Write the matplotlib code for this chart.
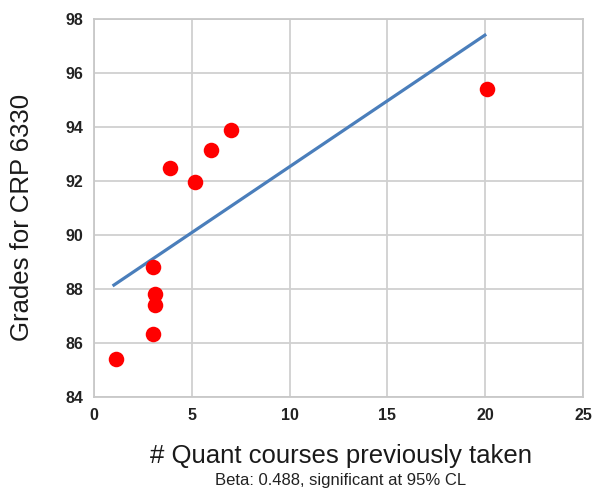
import matplotlib
matplotlib.use("Agg")
import matplotlib.pyplot as plt
import numpy as np

courses = [1.1, 3.0, 3.1, 3.1, 3.0, 3.9, 5.15, 6.0, 7.0, 20.1]
grades = [85.4, 88.8, 87.8, 87.4, 86.35, 92.5, 91.95, 93.15, 93.9, 95.4]
beta = 0.488
intercept = 87.65
trend_x = [0.95, 20.05]
x_ticks = [0, 5, 10, 15, 20, 25]
y_ticks = [84, 86, 88, 90, 92, 94, 96, 98]

plt.rcParams['font.family'] = ['Liberation Sans', 'DejaVu Sans']

fig = plt.figure(figsize=(5.92, 4.91), dpi=100)
ax = fig.add_axes([0.1588, 0.1914, 0.9848 - 0.1588, 0.9613 - 0.1914])

tx = np.array(trend_x)
ax.plot(tx, intercept + beta * tx, color='#4a7ebb', lw=2.3, zorder=3, solid_capstyle='butt')
ax.scatter(courses, grades, s=125, color='#ff0000', zorder=4, linewidths=0)

ax.set_xlim(0, 25)
ax.set_ylim(84, 98)
ax.set_xticks(x_ticks)
ax.set_yticks(y_ticks)
ax.grid(True, color='#d0d0d0', lw=1.3)
ax.set_axisbelow(True)
for s in ax.spines.values():
    s.set_color('#c8c8c8')
    s.set_linewidth(1.3)
ax.tick_params(length=0, pad=8, labelsize=11.5, labelcolor='#222222')
for lab in ax.get_xticklabels() + ax.get_yticklabels():
    lab.set_fontweight('bold')

fig.text(22 / 592, 1 - 217.5 / 491, 'Grades for CRP 6330', fontsize=18.5, rotation=90,
         ha='center', va='center', color='#1a1a1a')
fig.text(341.5 / 592, 1 - 463 / 491, '# Quant courses previously taken', fontsize=18.5,
         ha='center', va='baseline', color='#1a1a1a')
fig.text(341 / 592, 1 - 485 / 491, 'Beta: 0.488, significant at 95% CL', fontsize=12,
         ha='center', va='baseline', color='#222222')

fig.savefig('out.png', dpi=100)
